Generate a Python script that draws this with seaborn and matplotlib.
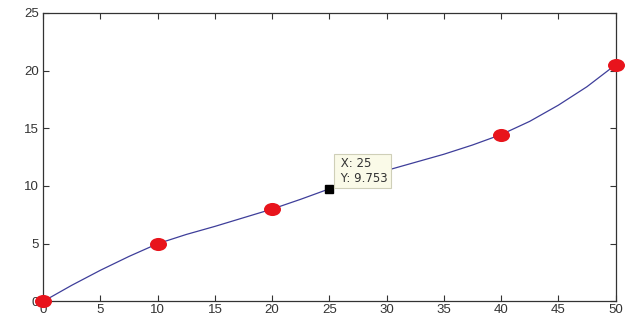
import numpy as np
import pandas as pd
import matplotlib
matplotlib.use("Agg")
import matplotlib.pyplot as plt
from matplotlib.path import Path
from matplotlib.transforms import Affine2D
import seaborn as sns

# measured points (red markers)
pt_x = [0, 10, 20, 40, 50]
pt_y = [0, 5.0, 8.0, 14.45, 20.5]

# fitted curve
curve_x = [0, 2.5, 5, 7.5, 10, 12.5, 15, 17.5, 20, 22.5, 25, 27.5, 30,
           32.5, 35, 37.5, 40, 42.5, 45, 47.5, 50]
curve_y = [0, 1.4, 2.7, 3.9, 5.0, 5.8, 6.5, 7.25, 8.0, 8.85, 9.753, 10.6,
           11.35, 12.05, 12.75, 13.55, 14.45, 15.6, 17.0, 18.6, 20.5]

# data cursor
cur_x = 25
cur_y = 9.753

x_ticks = [0, 5, 10, 15, 20, 25, 30, 35, 40, 45, 50]
y_ticks = [0, 5, 10, 15, 20, 25]

sns.set_theme(style="ticks")
plt.rcParams["font.family"] = ["Liberation Sans", "DejaVu Sans"]

df_curve = pd.DataFrame({"x": curve_x, "y": curve_y})
df_pts = pd.DataFrame({"x": pt_x, "y": pt_y})

# slightly wide ellipse, like the stretched markers in the screenshot
ellipse = Path.unit_circle().transformed(Affine2D().scale(1.3, 1.0))

fig = plt.figure(figsize=(6.31, 3.22), dpi=100)
ax = fig.add_axes([0.0685, 0.064, 0.907, 0.896])

sns.lineplot(data=df_curve, x="x", y="y", ax=ax, color="#3e3e9a",
             linewidth=0.9, zorder=2)
sns.scatterplot(data=df_pts, x="x", y="y", ax=ax, color="#e8141c", s=150,
                marker=ellipse, edgecolor="#e8141c", linewidth=0, zorder=3,
                clip_on=False)

ax.plot([cur_x], [cur_y], marker="s", color="black", markersize=6, zorder=4)
pad_px = 3
fs = 8.5
ax.annotate(f" X: {cur_x}\n Y: {cur_y}", xy=(cur_x, cur_y),
            xytext=((5 + pad_px) * 0.72, (1 + pad_px) * 0.72),
            textcoords="offset points", ha="left", va="bottom",
            fontsize=fs, family="DejaVu Sans", color="#333333", linespacing=1.2,
            bbox=dict(boxstyle="square,pad=%.2f" % (pad_px / (fs / 0.72)),
                      fc="#fafae8", ec="#cfcfb8", lw=0.8),
            zorder=5)

ax.set_xlim(0, 50)
ax.set_ylim(0, 25)
ax.set_xticks(x_ticks)
ax.set_yticks(y_ticks)
ax.set_xlabel("")
ax.set_ylabel("")
for s in ax.spines.values():
    s.set_visible(True)
    s.set_color("#333333")
    s.set_linewidth(0.9)
ax.tick_params(direction="in", length=4, width=0.8, top=True, right=True,
               labelsize=9.5, colors="#333333", pad=2)
ax.tick_params(axis="y", pad=3)

fig.savefig("out.png", dpi=100, facecolor="white")
